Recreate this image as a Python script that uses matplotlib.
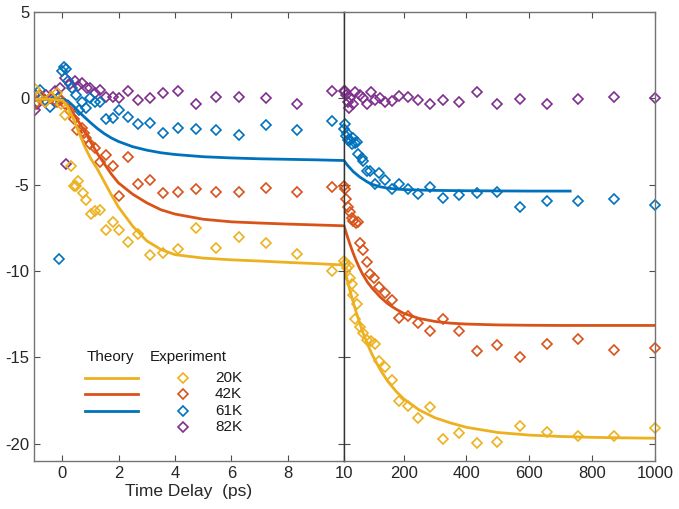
import numpy as np
import matplotlib
matplotlib.use("Agg")
import matplotlib.pyplot as plt

plt.rcParams['font.family'] = ['Liberation Sans', 'DejaVu Sans']
plt.rcParams['axes.unicode_minus'] = False

#%% colours (matlab default order)
c_20 = '#EDB120'
c_42 = '#D95319'
c_61 = '#0072BD'
c_82 = '#7E2F8E'

#%% experiment, short delays (ps)
t82_a = [-0.98, -0.9, -0.75, -0.57, -0.4, -0.26, -0.08, 0.1, 0.12, 0.28, 0.45, 0.56, 0.7, 0.88, 0.99, 1.15,
         1.34, 1.55, 1.8, 2.02, 2.33, 2.69, 3.12, 3.58, 4.11, 4.75, 5.46, 6.27, 7.23, 8.33, 9.57]
y82_a = [-0.7, -0.3, 0.0, 0.2, 0.1, 0.4, 0.6, 1.15, -3.8, 0.85, 1.0, 0.7, 0.9, 0.6, 0.6, 0.3,
         0.5, 0.1, 0.1, 0.0, 0.4, -0.1, 0.0, 0.3, 0.4, -0.3, 0.1, 0.05, 0.0, -0.3, 0.4]

t61_a = [-0.95, -0.8, -0.6, -0.45, -0.3, -0.15, -0.11, 0.0, 0.05, 0.12, 0.2, 0.35, 0.5, 0.6, 0.7, 0.85,
         0.99, 1.15, 1.34, 1.55, 1.8, 2.02, 2.33, 2.69, 3.12, 3.58, 4.11, 4.75, 5.46, 6.27, 7.23, 8.33, 9.57]
y61_a = [0.2, 0.5, -0.1, -0.5, -0.1, 0.0, -9.3, 1.6, 1.8, 1.7, 1.0, 0.6, 0.2, -0.65, -0.2, -0.55,
         0.0, -0.2, -0.2, -1.2, -1.15, -0.7, -1.1, -1.5, -1.4, -2.0, -1.7, -1.8, -1.85, -2.1, -1.55, -1.85, -1.3]

t42_a = [-0.95, -0.8, -0.6, -0.4, -0.2, -0.05, 0.1, 0.28, 0.42, 0.53, 0.7, 0.78, 0.85, 0.99, 1.15, 1.34,
         1.55, 1.8, 2.02, 2.33, 2.69, 3.12, 3.58, 4.11, 4.75, 5.46, 6.27, 7.23, 8.33, 9.57]
y42_a = [-0.3, 0.2, -0.2, 0.0, -0.2, -0.1, -0.3, -0.75, -1.2, -1.85, -1.7, -2.0, -2.3, -2.65, -2.9, -3.7,
         -3.3, -3.9, -5.65, -3.4, -4.95, -4.75, -5.5, -5.4, -5.25, -5.4, -5.4, -5.2, -5.4, -5.15]

t20_a = [-0.98, -0.85, -0.6, -0.4, -0.2, -0.05, 0.1, 0.31, 0.42, 0.5, 0.56, 0.74, 0.85, 1.02, 1.15, 1.34,
         1.55, 1.8, 2.02, 2.33, 2.69, 3.12, 3.58, 4.11, 4.75, 5.46, 6.27, 7.23, 8.33, 9.57]
y20_a = [0.55, 0.1, -0.2, 0.1, 0.3, -0.3, -0.95, -3.9, -5.1, -5.05, -4.8, -5.5, -5.9, -6.7, -6.55, -6.45,
         -7.6, -7.15, -7.6, -8.3, -7.85, -9.05, -8.95, -8.7, -7.5, -8.65, -8.0, -8.4, -9.0, -10.0]

#%% experiment, long delays (ps)
t82_b = [10, 13, 18, 22, 26, 29, 39, 45, 61, 70, 83, 96, 109, 125, 140, 163, 185, 214, 246, 284,
         325, 376, 433, 497, 570, 656, 755, 869, 1000]
y82_b = [0.45, 0.4, 0.2, -0.2, -0.55, 0.0, -0.3, 0.35, 0.2, 0.0, -0.35, 0.35, -0.1, 0.0, -0.2, -0.15,
         0.15, 0.1, -0.1, -0.3, -0.1, -0.2, 0.35, -0.3, -0.03, -0.3, -0.05, 0.1, 0.0]

t61_b = [10, 13, 16, 19, 23, 29, 35, 39, 45, 51, 55, 67, 70, 83, 93, 109, 121, 140, 163, 185, 214,
         246, 284, 325, 376, 433, 497, 570, 656, 755, 869, 1000]
y61_b = [-1.8, -1.5, -2.2, -2.0, -2.4, -2.4, -2.65, -2.3, -2.6, -2.5, -3.2, -3.45, -3.6, -4.2, -4.2,
         -4.95, -4.3, -4.75, -5.25, -4.95, -5.25, -5.55, -5.15, -5.75, -5.6, -5.5, -5.4, -6.3, -5.95,
         -5.95, -5.8, -6.2]

t42_b = [10, 12, 16, 23, 29, 35, 39, 48, 55, 61, 70, 83, 93, 106, 121, 140, 163, 185, 214, 246, 284,
         325, 376, 433, 497, 570, 656, 755, 869, 1000]
y42_b = [-5.1, -5.25, -5.85, -6.3, -6.6, -6.9, -7.1, -7.2, -7.15, -8.4, -8.8, -9.45, -10.15, -10.4,
         -10.95, -11.25, -11.65, -12.7, -12.6, -13.0, -13.45, -12.8, -13.45, -14.65, -14.3, -14.95,
         -14.2, -13.95, -14.6, -14.45]

t20_b = [10, 12, 19, 26, 29, 35, 39, 45, 51, 61, 70, 83, 96, 109, 121, 140, 163, 185, 214, 246, 284,
         325, 376, 433, 497, 570, 656, 755, 869, 1000]
y20_b = [-9.4, -9.6, -9.8, -9.7, -10.4, -10.75, -11.4, -12.75, -11.9, -13.25, -13.6, -14.0, -14.05,
         -14.25, -15.2, -15.55, -16.3, -17.5, -17.8, -18.5, -17.9, -19.7, -19.4, -19.95, -19.9, -19.0,
         -19.3, -19.55, -19.55, -19.1]

#%% theory curves
tt_a = [-1, -0.5, 0, 0.2, 0.4, 0.6, 0.8, 1.0, 1.25, 1.5, 1.75, 2.0, 2.5, 3.0, 3.5, 4.0, 5.0, 6.0, 7.0,
        8.0, 9.0, 10.0]
th20_a = [-0.05, -0.05, -0.1, -0.5, -1.2, -2.0, -2.8, -3.45, -4.1, -4.85, -5.6, -6.3, -7.4, -8.25,
          -8.75, -9.05, -9.25, -9.35, -9.42, -9.5, -9.57, -9.65]
th42_a = [-0.05, -0.05, -0.1, -0.4, -0.9, -1.4, -1.9, -2.5, -3.2, -3.8, -4.4, -4.9, -5.55, -6.05,
          -6.45, -6.7, -7.0, -7.15, -7.22, -7.28, -7.33, -7.38]
th61_a = [-0.05, -0.05, -0.05, -0.15, -0.45, -0.8, -1.1, -1.4, -1.75, -2.05, -2.3, -2.5, -2.8, -3.0,
          -3.15, -3.25, -3.38, -3.45, -3.5, -3.53, -3.56, -3.6]

tt_b = [10, 20, 30, 40, 50, 60, 70, 85, 100, 125, 150, 175, 200, 250, 300, 350, 400, 500, 600, 700,
        800, 900, 1000]
th20_b = [-9.7, -10.5, -11.2, -11.85, -12.45, -13.0, -13.55, -14.25, -14.85, -15.7, -16.4, -16.95,
          -17.4, -18.05, -18.5, -18.8, -19.05, -19.35, -19.5, -19.58, -19.63, -19.66, -19.68]
th42_b = [-7.38, -7.95, -8.5, -9.0, -9.45, -9.85, -10.2, -10.65, -11.0, -11.5, -11.9, -12.2, -12.45,
          -12.75, -12.92, -13.02, -13.07, -13.12, -13.14, -13.15, -13.15, -13.15, -13.15]
tt61_b = [10, 20, 30, 40, 50, 60, 70, 85, 100, 125, 150, 175, 200, 250, 300, 350, 400, 500, 600, 730]
th61_b = [-3.6, -3.85, -4.05, -4.25, -4.4, -4.55, -4.67, -4.85, -4.98, -5.12, -5.2, -5.25, -5.28,
          -5.31, -5.33, -5.34, -5.35, -5.36, -5.37, -5.37]

labels = ['20K', '42K', '61K', '82K']

#%% plot
fig = plt.figure(figsize=(6.79, 5.09), dpi=100)
ax1 = fig.add_axes([0.0501, 0.0943, 0.4566, 0.8821])
ax2 = fig.add_axes([0.5066, 0.0943, 0.4580, 0.8821])

mk = dict(marker='D', ls='none', mfc='none', ms=5.5, mew=1.2)
lw = 2.0

for t, y, c in [(t82_a, y82_a, c_82), (t61_a, y61_a, c_61), (t42_a, y42_a, c_42), (t20_a, y20_a, c_20)]:
    ax1.plot(t, y, color=c, **mk)
ax1.plot(tt_a, th61_a, color=c_61, lw=lw)
ax1.plot(tt_a, th42_a, color=c_42, lw=lw)
ax1.plot(tt_a, th20_a, color=c_20, lw=lw)

for t, y, c in [(t82_b, y82_b, c_82), (t61_b, y61_b, c_61), (t42_b, y42_b, c_42), (t20_b, y20_b, c_20)]:
    ax2.plot(t, y, color=c, clip_on=False, **mk)
ax2.plot(tt61_b, th61_b, color=c_61, lw=lw)
ax2.plot(tt_b, th42_b, color=c_42, lw=lw)
ax2.plot(tt_b, th20_b, color=c_20, lw=lw)

ax1.set_xlim(-1, 10)
ax2.set_xlim(10, 1000)
for ax in (ax1, ax2):
    ax.set_ylim(-21, 5)
    ax.set_yticks([-20, -15, -10, -5, 0, 5])
    ax.tick_params(direction='in', length=4, width=0.8, colors='0.3', labelcolor='0.15',
                   labelsize=12, top=True, right=True)
    for s in ax.spines.values():
        s.set_color('0.45')
        s.set_linewidth(1.0)

ax1.set_xticks([0, 2, 4, 6, 8])
ax2.set_xticks([10, 200, 400, 600, 800, 1000])
ax2.tick_params(labelleft=False)
ax1.spines['right'].set_color('0.2')
ax2.spines['left'].set_color('0.2')
ax1.set_xlabel("Time Delay  (ps)", fontsize=12.5, color='0.15', labelpad=2)

# legend drawn by hand
ax1.text(0.171, 0.232, "Theory", transform=ax1.transAxes, fontsize=11, va='center', color='0.1')
ax1.text(0.374, 0.232, "Experiment", transform=ax1.transAxes, fontsize=11, va='center', color='0.1')
leg_y = [0.185, 0.149, 0.111, 0.076]
for i, (c, lab) in enumerate(zip([c_20, c_42, c_61, c_82], labels)):
    if i < 3:
        ax1.plot([0.165, 0.335], [leg_y[i], leg_y[i]], color=c, lw=lw, transform=ax1.transAxes)
    ax1.plot([0.481], [leg_y[i]], color=c, transform=ax1.transAxes, **mk)
    ax1.text(0.584, leg_y[i], lab, transform=ax1.transAxes, fontsize=11, va='center', color='0.1')

fig.savefig("out.png", dpi=100)
